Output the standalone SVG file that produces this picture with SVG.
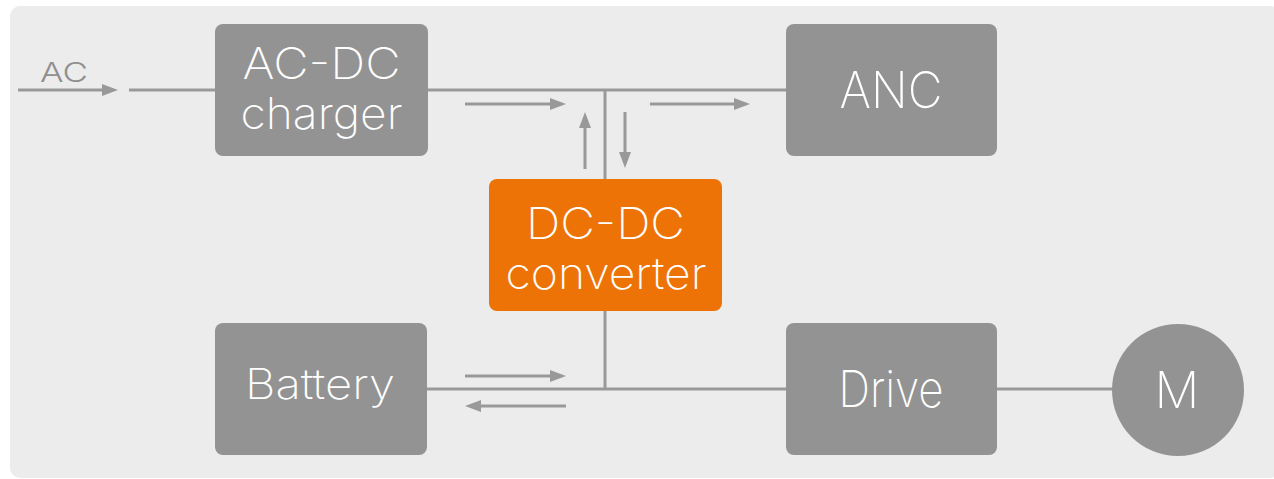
<svg xmlns="http://www.w3.org/2000/svg" width="1274" height="479" viewBox="0 0 1274 479">
<defs>
<style>
.box{fill:#939393;}
.conv{fill:#ED7306;}
.wire{stroke:#999999;stroke-width:3;fill:none;}
.arr{stroke:#999999;stroke-width:3;fill:none;marker-end:url(#ah);}
.lbl{font-family:Inter,"Liberation Sans",Arial,sans-serif;font-weight:200;fill:#ffffff;text-anchor:middle;}
.ac{font-family:Inter,"Liberation Sans",Arial,sans-serif;font-weight:300;fill:#8f8f8f;font-size:27px;}
</style>
<marker id="ah" viewBox="0 0 16 12" markerWidth="16" markerHeight="12" refX="8" refY="6" orient="auto" markerUnits="userSpaceOnUse">
<path d="M0,0 L16,6 L0,12 z" fill="#999999"/>
</marker>
</defs>
<rect x="10" y="6" width="1270" height="472" rx="10" fill="#ececec"/>
<g id="connectors">
<line class="arr" x1="18" y1="90" x2="110" y2="90"/>
<line class="wire" x1="129" y1="90" x2="786" y2="90"/>
<line class="wire" x1="605" y1="90" x2="605" y2="180"/>
<line class="wire" x1="605" y1="310" x2="605" y2="389"/>
<line class="wire" x1="427" y1="389" x2="786" y2="389"/>
<line class="wire" x1="997" y1="389" x2="1113" y2="389"/>
<line class="arr" x1="465" y1="104" x2="558" y2="104"/>
<line class="arr" x1="650" y1="104" x2="742" y2="104"/>
<line class="arr" x1="585" y1="169" x2="585" y2="120"/>
<line class="arr" x1="625" y1="112" x2="625" y2="160"/>
<line class="arr" x1="465" y1="376" x2="558" y2="376"/>
<line class="arr" x1="566" y1="406" x2="473" y2="406"/>
</g>
<text class="ac" x="40" y="82" textLength="48" lengthAdjust="spacingAndGlyphs">AC</text>
<g id="acdc">
<rect class="box" x="215" y="24" width="213" height="132" rx="8"/>
<text class="lbl" x="321.5" y="79" font-size="44" textLength="158" lengthAdjust="spacingAndGlyphs">AC-DC</text>
<text class="lbl" x="321.5" y="129" font-size="44" textLength="162" lengthAdjust="spacingAndGlyphs">charger</text>
</g>
<g id="anc">
<rect class="box" x="786" y="24" width="211" height="132" rx="8"/>
<text class="lbl" x="891" y="108" font-size="50" textLength="103" lengthAdjust="spacingAndGlyphs">ANC</text>
</g>
<g id="dcdc">
<rect class="conv" x="489" y="179" width="233" height="132" rx="8"/>
<text class="lbl" x="605.5" y="239" font-size="44" textLength="159" lengthAdjust="spacingAndGlyphs">DC-DC</text>
<text class="lbl" x="606" y="289" font-size="44" textLength="201" lengthAdjust="spacingAndGlyphs">converter</text>
</g>
<g id="battery">
<rect class="box" x="215" y="323" width="212" height="132" rx="8"/>
<text class="lbl" x="320" y="399" font-size="42" textLength="150" lengthAdjust="spacingAndGlyphs">Battery</text>
</g>
<g id="drive">
<rect class="box" x="786" y="323" width="211" height="132" rx="8"/>
<text class="lbl" x="891" y="407" font-size="50" textLength="105" lengthAdjust="spacingAndGlyphs">Drive</text>
</g>
<g id="motor">
<circle class="box" cx="1178" cy="390" r="66"/>
<text class="lbl" x="1177" y="408" font-size="50">M</text>
</g>
</svg>
